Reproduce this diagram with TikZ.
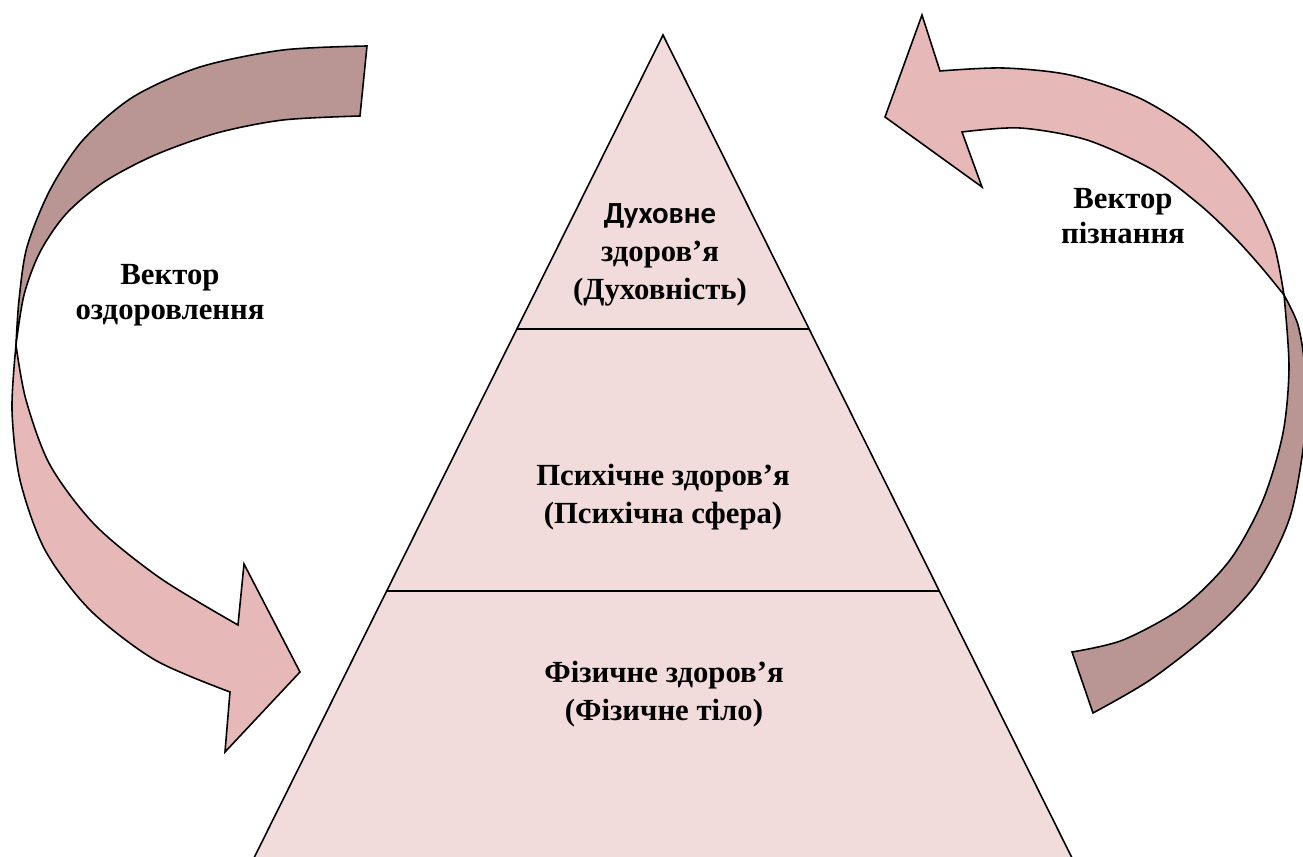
\documentclass[tikz,border=0pt]{standalone}
\usepackage{fontspec}
\setmainfont{Liberation Serif}
\newfontfamily\calibrifont{Carlito}
\usetikzlibrary{calc}

\definecolor{tierfill}{RGB}{242,220,219}
\definecolor{arrowlight}{RGB}{230,185,184}
\definecolor{arrowdark}{RGB}{185,150,147}

\begin{document}
\begin{tikzpicture}[
    x=0.02cm, y=-0.02cm,
    tier/.style={fill=tierfill, draw=black, line width=0.9pt},
    divider/.style={draw=black, line width=0.9pt},
    bandfront/.style={fill=arrowlight, draw=black, line width=0.9pt, line join=miter},
    bandback/.style={fill=arrowdark, draw=black, line width=0.9pt},
    lbl/.style={font=\bfseries\fontsize{17.5}{20}\selectfont, align=center, inner sep=0pt},
    tierlbl/.style={lbl, font=\bfseries\fontsize{17.5}{21.5}\selectfont},
]
\useasboundingbox (0,0) rectangle (1303,857);
\clip (0,0) rectangle (1303,857);

% Піраміда
\coordinate (apex) at (663,35);
\coordinate (baseL) at (248,870);
\coordinate (baseR) at (1078,870);
\filldraw[tier] (apex) -- (baseR) -- (baseL) -- cycle;
\draw[divider] ($(apex)!0.352!(baseL)$) -- ($(apex)!0.352!(baseR)$);
\draw[divider] ($(apex)!0.666!(baseL)$) -- ($(apex)!0.666!(baseR)$);

% Рівні піраміди
\node[tierlbl] (spirit) at (660,255) {{\calibrifont Духовне}\\здоров’я\\(Духовність)};
\node[tierlbl] (psyche) at (663,497) {Психічне здоров’я\\(Психічна сфера)};
\node[tierlbl] (body) at (664,694) {Фізичне здоров’я\\(Фізичне тіло)};

% Вектор оздоровлення (ліва стрілка)
\filldraw[bandback] plot[smooth] coordinates {(367,46) (283,50) (200,67) (133,97)
    (83,140) (50,190) (27,247) (19,300) (16,345)}
  -- plot[smooth] coordinates {(16,345) (24,295) (40,252) (66,214) (104,182)
    (155,155) (217,133) (283,120) (360,116)} -- cycle;
\filldraw[bandfront] plot[smooth] coordinates {(16,345) (12,410) (20,480)
    (45,550) (90,610) (155,660) (230,692)}
  -- (225,752) -- (300,672) -- (244,564) -- (238,625)
  -- plot[smooth] coordinates {(238,625) (160,578) (95,525) (50,465)
    (26,400) (16,345)} -- cycle;
\node[lbl] (heal) at (170,295) {Вектор\\оздоровлення};

% Вектор пізнання (права стрілка)
\filldraw[bandfront] (885,117) -- (922,15) -- (940,71)
  -- plot[smooth] coordinates {(940,71) (1003,68) (1070,75) (1137,97) (1187,127)
    (1222,160) (1253,200) (1274,245) (1284,295)}
  -- plot[smooth] coordinates {(1284,295) (1262,268) (1235,238) (1200,205)
    (1153,170) (1087,140) (1020,128) (962,132)}
  -- (982,187) -- cycle;
\filldraw[bandback] plot[smooth] coordinates {(1284,295) (1298,325) (1305,370)
    (1305,433) (1290,517) (1257,583) (1210,633) (1150,680) (1093,713)}
  -- (1072,652)
  -- plot[smooth] coordinates {(1072,652) (1123,640) (1183,607) (1230,560)
    (1263,500) (1283,433) (1289,367) (1284,295)} -- cycle;
\node[lbl] (cogn) at (1123,216) {Вектор\\пізнання};

\end{tikzpicture}
\end{document}
